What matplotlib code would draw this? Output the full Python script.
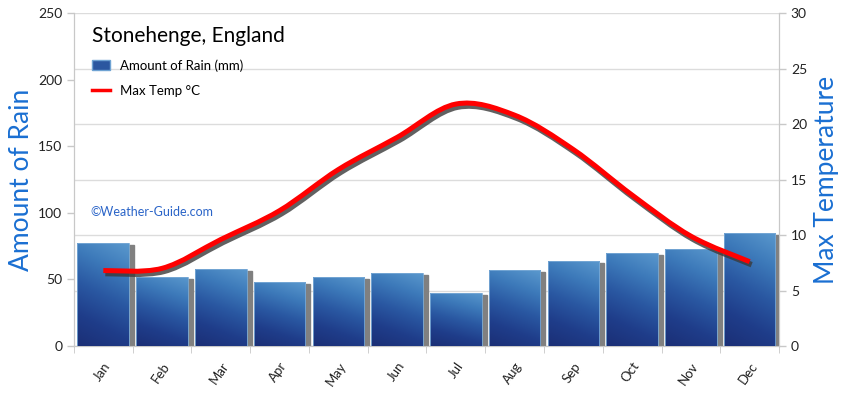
import numpy as np
import matplotlib
matplotlib.use("Agg")
import matplotlib.pyplot as plt
from matplotlib.path import Path
from matplotlib.patches import PathPatch, Rectangle
from matplotlib.lines import Line2D
import matplotlib.transforms as mtransforms

months = ['Jan', 'Feb', 'Mar', 'Apr', 'May', 'Jun', 'Jul', 'Aug', 'Sep', 'Oct', 'Nov', 'Dec']
rain = [77, 52, 58, 48, 52, 55, 40, 57, 64, 70, 73, 85]
temp = [6.8, 7.0, 9.6, 12.2, 15.9, 18.8, 21.8, 20.8, 17.7, 13.6, 9.9, 7.6]
rain_ticks = [0, 50, 100, 150, 200, 250]
temp_ticks = [0, 5, 10, 15, 20, 25, 30]

plt.rcParams['font.family'] = ['Lato', 'DejaVu Sans']
blue_lab = '#1a6fd2'
grey = '#c8c8c8'

fig = plt.figure(figsize=(8.5, 3.95), dpi=100)
ax = fig.add_axes([0.087, 0.124, 0.8295, 0.843])
ax2 = ax.twinx()
ax.set_ylim(0, 250)
ax2.set_ylim(0, 30)
ax.set_xlim(-0.5, 11.5)

# grid follows the temperature axis
ax2.set_yticks(temp_ticks)
ax2.grid(axis='y', color='#dcdcdc', linewidth=1, zorder=0)
ax2.set_axisbelow(True)
ax.set_yticks(rain_ticks)

# bars with gradient, drawn on ax2 but in rain coordinates
grad_y = np.linspace(0, 1, 100)[:, None]
grad_x = np.linspace(0, 1, 20)[None, :]
g = grad_y * 0.8 + grad_x * 0.2
cmap = matplotlib.colors.LinearSegmentedColormap.from_list(
    'bar', ['#1b2f76', '#1f3d8a', '#2a58a2', '#3d7aba', '#5a98cd'])
shadow_tr = mtransforms.offset_copy(ax.transData, fig=fig, x=5, y=0, units='dots')
w = 0.88
for i, r in enumerate(rain):
    sh = Rectangle((i - w / 2, 0), w, r - 1.5, transform=shadow_tr, color='#808080',
                   zorder=2)
    ax2.add_patch(sh)
    rect = Rectangle((i - w / 2, 0), w, r, transform=ax.transData,
                     facecolor='none', edgecolor='none')
    ax2.add_patch(rect)
    im = ax2.imshow(g, cmap=cmap, origin='lower', aspect='auto',
                    extent=(i - w / 2, i + w / 2, 0, r), transform=ax.transData,
                    zorder=3, interpolation='bilinear')
    im.set_clip_path(rect)
    edge = Rectangle((i - w / 2, 0), w, r, transform=ax.transData,
                     facecolor='none', edgecolor='#7aaad6', linewidth=0.6, zorder=3.5)
    ax2.add_patch(edge)

# smooth temperature curve (Catmull-Rom through the monthly values)
x = np.arange(len(temp), dtype=float)
y = np.array(temp)
verts = [(x[0], y[0])]
codes = [Path.MOVETO]
for k in range(len(x) - 1):
    p0 = (x[max(k - 1, 0)], y[max(k - 1, 0)])
    p1 = (x[k], y[k])
    p2 = (x[k + 1], y[k + 1])
    p3 = (x[min(k + 2, len(x) - 1)], y[min(k + 2, len(x) - 1)])
    c1 = (p1[0] + (p2[0] - p0[0]) / 6, p1[1] + (p2[1] - p0[1]) / 6)
    c2 = (p2[0] - (p3[0] - p1[0]) / 6, p2[1] - (p3[1] - p1[1]) / 6)
    verts += [c1, c2, p2]
    codes += [Path.CURVE4] * 3
path = Path(verts, codes)
line_shadow_tr = mtransforms.offset_copy(ax2.transData, fig=fig, x=2, y=-3, units='dots')
ax2.add_patch(PathPatch(path, facecolor='none', edgecolor='#3a3a3a', linewidth=4,
                        transform=line_shadow_tr, zorder=4, alpha=0.8))
ax2.add_patch(PathPatch(path, facecolor='none', edgecolor='#ff0000', linewidth=3.6,
                        transform=ax2.transData, zorder=5))

# axes styling
for a in (ax, ax2):
    a.spines['top'].set_visible(False)
    a.spines['left'].set_color(grey)
    a.spines['right'].set_color(grey)
    a.spines['bottom'].set_color(grey)
ax.tick_params(axis='y', colors=grey, labelcolor='#222222', labelsize=10, length=5, width=1)
ax2.tick_params(axis='y', colors=grey, labelcolor='#222222', labelsize=10, length=5, width=1)

ax.set_xticks(range(12))
ax.set_xticklabels(months, rotation=55, ha='right', rotation_mode='anchor',
                   fontsize=9.5, color='#222222')
ax.set_xticks(np.arange(-0.5, 12, 1), minor=True)
ax.tick_params(axis='x', which='major', length=0, pad=10)
ax.tick_params(axis='x', which='minor', length=5, color=grey)

ax.set_ylabel('Amount of Rain', fontsize=19, color=blue_lab, labelpad=3)
ax2.set_ylabel('Max Temperature', fontsize=19, color=blue_lab, labelpad=5)

ax2.text(0.023, 0.39, '\u00a9Weather-Guide.com', transform=ax2.transAxes,
         fontsize=9, color='#2a64c8', zorder=6)

handles = [Rectangle((0, 0), 1, 1, facecolor='#2b57a0', edgecolor='#6fa3d3'),
           Line2D([0], [0], color='#ff0000', linewidth=2.5)]
leg = ax2.legend(handles, ['Amount of Rain (mm)', 'Max Temp \u00b0C'],
                 title='Stonehenge, England', loc='upper left',
                 bbox_to_anchor=(0.015, 0.985), frameon=False, fontsize=9.5,
                 title_fontsize=15, alignment='left', handlelength=1.3,
                 handleheight=0.7, labelspacing=1.0, borderaxespad=0.2)
leg.set_zorder(7)

fig.savefig('out.png', dpi=100)
